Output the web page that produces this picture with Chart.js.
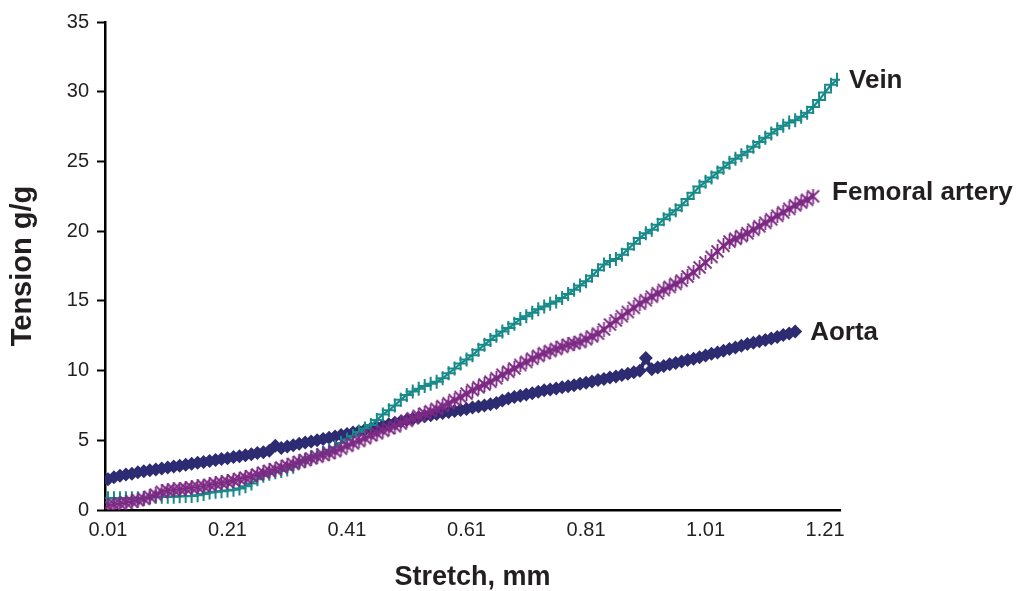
<!DOCTYPE html>
<html><head><meta charset="utf-8">
<script src="https://cdn.jsdelivr.net/npm/chart.js@4/dist/chart.umd.min.js"></script>
<style>html,body{margin:0;padding:0;background:#fff;overflow:hidden}</style>
</head><body>
<canvas id="c" width="1018" height="591"></canvas>
<script>
// ---- data ----
const stretchMm = [0.01,0.02,0.03,0.04,0.05,0.06,0.07,0.08,0.09,0.10,
0.11,0.12,0.13,0.14,0.15,0.16,0.17,0.18,0.19,0.20,
0.21,0.22,0.23,0.24,0.25,0.26,0.27,0.28,0.29,0.30,
0.31,0.32,0.33,0.34,0.35,0.36,0.37,0.38,0.39,0.40,
0.41,0.42,0.43,0.44,0.45,0.46,0.47,0.48,0.49,0.50,
0.51,0.52,0.53,0.54,0.55,0.56,0.57,0.58,0.59,0.60,
0.61,0.62,0.63,0.64,0.65,0.66,0.67,0.68,0.69,0.70,
0.71,0.72,0.73,0.74,0.75,0.76,0.77,0.78,0.79,0.80,
0.81,0.82,0.83,0.84,0.85,0.86,0.87,0.88,0.89,0.90,
0.91,0.92,0.93,0.94,0.95,0.96,0.97,0.98,0.99,1.00,
1.01,1.02,1.03,1.04,1.05,1.06,1.07,1.08,1.09,1.10,
1.11,1.12,1.13,1.14,1.15,1.16,1.17,1.18,1.19,1.20,
1.21,1.22,1.23];

const aorta = [2.20,2.35,2.45,2.55,2.60,2.70,2.78,2.85,2.90,2.98,
3.05,3.12,3.18,3.25,3.32,3.38,3.45,3.52,3.58,3.65,
3.72,3.80,3.86,3.92,4.00,4.08,4.15,4.25,4.60,4.45,
4.55,4.65,4.75,4.85,4.92,5.00,5.10,5.18,5.28,5.38,
5.45,5.55,5.65,5.75,5.85,5.95,6.05,6.15,6.25,6.35,
6.45,6.55,6.65,6.72,6.80,6.88,6.95,7.02,7.10,7.18,
7.25,7.35,7.42,7.50,7.58,7.68,7.85,8.00,8.10,8.20,
8.28,8.38,8.48,8.58,8.65,8.72,8.80,8.88,8.95,9.05,
9.12,9.22,9.32,9.40,9.50,9.58,9.68,9.78,9.88,9.98,
10.90,10.10,10.22,10.32,10.45,10.55,10.65,10.75,10.85,10.95,
11.08,11.20,11.30,11.42,11.55,11.65,11.78,11.90,12.00,12.10,
12.20,12.30,12.40,12.55,12.65,12.80];

const femoralArtery = [0.35,0.40,0.45,0.55,0.60,0.70,0.80,0.95,1.10,1.30,
1.40,1.45,1.50,1.55,1.60,1.65,1.72,1.80,1.88,1.95,
2.02,2.12,2.22,2.32,2.42,2.55,2.68,2.80,2.92,3.05,
3.18,3.30,3.45,3.58,3.70,3.82,3.95,4.08,4.22,4.40,
4.60,4.78,4.95,5.15,5.35,5.50,5.68,5.85,6.00,6.20,
6.40,6.58,6.75,6.92,7.08,7.25,7.45,7.65,7.88,8.10,
8.35,8.60,8.80,9.00,9.20,9.45,9.70,9.92,10.15,10.40,
10.62,10.85,11.05,11.25,11.40,11.55,11.70,11.85,11.95,12.05,
12.25,12.45,12.65,12.95,13.30,13.60,13.90,14.20,14.50,14.80,
15.05,15.30,15.55,15.78,16.00,16.22,16.45,16.75,17.05,17.40,
17.75,18.15,18.55,18.95,19.25,19.45,19.65,19.85,20.10,20.35,
20.60,20.85,21.10,21.35,21.60,21.85,22.05,22.25,22.50];

const vein = [0.85,0.85,0.85,0.85,0.85,0.85,0.85,0.90,0.95,0.95,
0.95,0.95,0.98,1.00,1.00,1.05,1.15,1.25,1.30,1.35,
1.40,1.45,1.55,1.70,1.90,2.20,2.45,2.60,2.70,2.80,
2.90,3.10,3.40,3.60,3.80,3.95,4.10,4.30,4.50,4.80,
5.05,5.30,5.60,5.85,6.10,6.45,6.85,7.15,7.50,7.90,
8.25,8.50,8.70,8.90,9.05,9.20,9.45,9.80,10.15,10.50,
10.80,11.10,11.50,11.85,12.20,12.50,12.80,13.05,13.35,13.70,
13.90,14.15,14.40,14.60,14.80,14.95,15.20,15.50,15.80,16.10,
16.40,16.80,17.20,17.60,17.85,18.00,18.30,18.70,19.10,19.50,
19.85,20.10,20.45,20.85,21.20,21.50,21.85,22.30,22.75,23.20,
23.55,23.85,24.20,24.55,24.90,25.20,25.45,25.70,26.05,26.40,
26.70,27.00,27.30,27.55,27.80,27.95,28.20,28.50,28.90,29.40,
29.95,30.50,30.85];

const xTickLabels = [0.01,0.21,0.41,0.61,0.81,1.01,1.21];
const yTickValues = [0,5,10,15,20,25,30,35];
const seriesNames = ['Femoral artery','Vein','Aorta'];

// ---- styling ----
const FONT = "'Liberation Sans', Arial, Helvetica, sans-serif";
const COL_AORTA = '#2d2b71';
const COL_FEM = '#7d2a84';
const COL_VEIN = '#188a8a';

function asteriskMarker(color, size, lw) {
  const c = document.createElement('canvas');
  c.width = size; c.height = size;
  const g = c.getContext('2d');
  g.strokeStyle = color; g.lineWidth = lw; g.lineCap = 'butt';
  const m = 1.5;
  g.beginPath();
  g.moveTo(m, m); g.lineTo(size - m, size - m);
  g.moveTo(size - m, m); g.lineTo(m, size - m);
  g.moveTo(size / 2, 0); g.lineTo(size / 2, size);
  g.stroke();
  return c;
}

function pts(values) { return values.map((v, i) => ({ x: stretchMm[i], y: v })); }

const endLabelOffsets = { 'Vein': [12, 1], 'Femoral artery': [19, -3], 'Aorta': [15, 1] };

const endLabels = {
  id: 'endLabels',
  afterDatasetsDraw(chart) {
    const ctx = chart.ctx;
    ctx.save();
    ctx.font = 'bold 26px ' + FONT;
    ctx.fillStyle = '#231f20';
    ctx.textBaseline = 'middle';
    ctx.textAlign = 'left';
    chart.data.datasets.forEach((ds, i) => {
      const meta = chart.getDatasetMeta(i);
      const last = meta.data[meta.data.length - 1];
      const off = endLabelOffsets[ds.label] || [12, 0];
      ctx.fillText(ds.label, last.x + off[0], last.y + off[1]);
    });
    ctx.restore();
  }
};

new Chart(document.getElementById('c'), {
  type: 'line',
  data: {
    datasets: [
      { label: seriesNames[0], data: pts(femoralArtery), order: 1,
        borderColor: COL_FEM, borderWidth: 2.2, pointStyle: asteriskMarker(COL_FEM, 15, 1.8),
        pointRadius: 7, pointBorderColor: COL_FEM, tension: 0 },
      { label: seriesNames[1], data: pts(vein), order: 2,
        borderColor: COL_VEIN, borderWidth: 2.2, pointStyle: 'cross', pointRadius: 7,
        pointBorderWidth: 2, pointBorderColor: COL_VEIN, pointBackgroundColor: COL_VEIN, tension: 0 },
      { label: seriesNames[2], data: pts(aorta), order: 3,
        borderColor: COL_AORTA, borderWidth: 4, pointStyle: 'rectRot', pointRadius: 7,
        pointBorderWidth: 0, pointBackgroundColor: COL_AORTA, pointBorderColor: COL_AORTA, tension: 0 }
    ]
  },
  options: {
    responsive: false,
    animation: false,
    devicePixelRatio: 1,
    events: [],
    layout: { padding: { left: 0, top: 22, right: 178, bottom: 0 } },
    plugins: { legend: { display: false }, tooltip: { enabled: false } },
    scales: {
      x: {
        type: 'linear', min: 0.005, max: 1.235,
        afterBuildTicks(axis) { axis.ticks = xTickLabels.map(v => ({ value: v })); },
        afterFit(scale) { scale.height = 81; },
        border: { display: true, color: '#000', width: 2.5 },
        grid: { display: true, drawOnChartArea: false, drawTicks: false, color: '#000' },
        ticks: { color: '#231f20', padding: 8, maxRotation: 0, autoSkip: false,
                 font: { family: FONT, size: 20 },
                 callback: v => v.toFixed(2) },
        title: { display: true, text: 'Stretch, mm', color: '#231f20',
                 font: { family: FONT, size: 27, weight: 'bold', lineHeight: 1.0 }, padding: { top: 0, bottom: 0 } }
      },
      y: {
        min: 0, max: 35,
        afterBuildTicks(axis) { axis.ticks = yTickValues.map(v => ({ value: v })); },
        afterFit(scale) { scale.width = 105; },
        border: { display: true, color: '#000', width: 2.5 },
        grid: { display: true, drawOnChartArea: false, drawTicks: true, tickLength: 8, tickWidth: 2, color: '#000' },
        ticks: { color: '#231f20', padding: 8, font: { family: FONT, size: 20 } },
        title: { display: true, text: 'Tension g/g', color: '#231f20',
                 font: { family: FONT, size: 29, weight: 'bold' }, padding: { top: 6, bottom: 0 } }
      }
    }
  },
  plugins: [endLabels]
});
</script>
</body></html>
